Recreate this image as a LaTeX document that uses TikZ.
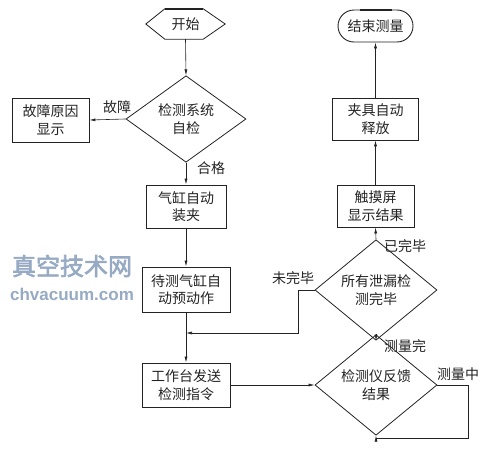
\documentclass[tikz,border=0pt]{standalone}
\usepackage{fontspec}
\newfontfamily\cjk{Noto Sans CJK SC}
\newfontfamily\wmfont{Noto Sans CJK SC}[FakeBold=2.5]
\newfontfamily\wmlat{Liberation Sans}
\usetikzlibrary{shapes.geometric,shapes.misc,arrows.meta}
\definecolor{ink}{RGB}{35,35,35}
\definecolor{wm}{RGB}{150,170,195}
\tikzset{
  every node/.style={font=\cjk\fontsize{14}{17.5}\selectfont, text=ink, inner sep=0pt},
  box/.style={draw=ink, line width=0.9pt, rectangle, align=center},
  dia/.style={draw=ink, line width=0.8pt, diamond, align=center},
  flow/.style={draw=ink, line width=0.6pt, -{Latex[length=6pt,width=3pt]}},
  plain/.style={draw=ink, line width=0.6pt},
  lbl/.style={font=\cjk\fontsize{14}{16}\selectfont}
}
\begin{document}
\begin{tikzpicture}[x=1pt,y=-1pt]
\useasboundingbox (0,0) rectangle (484,455);
% watermark
\node[text=wm, font=\wmfont\fontsize{24}{26}\selectfont] (wmcn) at (72,266) {真空技术网};
\node[text=wm, font=\wmlat\bfseries\fontsize{17}{19}\selectfont] (wmen) at (72,294) {chvacuum.com};
% start hexagon
\node[minimum width=79pt, minimum height=30pt] (start) at (185.5,24) {开始};
\draw[ink, line width=0.8pt] (start.west) -- ([xshift=19pt]start.north west) -- ([xshift=-22pt]start.north east) -- (start.east) -- ([xshift=-22pt]start.south east) -- ([xshift=19pt]start.south west) -- cycle;
\draw[ink, line width=2pt] ([xshift=19pt,yshift=-0.5pt]start.north west) -- ([xshift=-22pt,yshift=-0.5pt]start.north east);
% end terminal
\node[draw=ink, line width=0.9pt, rounded rectangle, minimum width=75pt, minimum height=32pt] (end) at (375.5,26) {结束测量};
\draw[ink, line width=2pt] ([xshift=-16pt,yshift=-0.5pt]end.north) -- ([xshift=16pt,yshift=-0.5pt]end.north);
% nodes
\node[dia, minimum width=120pt, minimum height=67pt] (check) at (186,119) {检测系统\\自检};
\node[box, minimum width=77pt, minimum height=44pt] (fault) at (50.5,120) {故障原因\\显示};
\node[box, minimum width=80pt, minimum height=43pt] (clamp) at (186,206.5) {气缸自动\\装夹};
\node[box, minimum width=88pt, minimum height=45pt] (pre) at (186,289.5) {待测气缸自\\动预动作};
\node[box, minimum width=88pt, minimum height=44pt] (send) at (186,385) {工作台发送\\检测指令};
\node[dia, minimum width=122pt, minimum height=65pt] (fb) at (376,385) {检测仪反馈\\结果};
\node[dia, minimum width=122pt, minimum height=66pt] (all) at (376,290) {所有泄漏检\\测完毕};
\node[box, minimum width=77pt, minimum height=42pt] (screen) at (375.5,206) {触摸屏\\显示结果};
\node[box, minimum width=86pt, minimum height=42pt] (release) at (375.5,119) {夹具自动\\释放};
% helper coordinates
\coordinate (fbR) at (468,385);
\coordinate (fbRB) at (468,438);
\coordinate (fbB) at (376,438);
\coordinate (allLB) at (298,333);
\coordinate (join) at (186,333);
% connectors
\draw[flow] (start.south) -- (check.north);
\draw[flow] (check.west) -- (fault.east);
\draw[flow] (check.south) -- (clamp.north);
\draw[flow] (clamp.south) -- (pre.north);
\draw[flow] (pre.south) -- (send.north);
\draw[flow] (send.east) -- (fb.west);
\draw[flow] (fb.east) -- (fbR) -- (fbRB) -- (fbB) -- (fb.south);
\draw[flow] (fb.north) -- (all.south);
\draw[flow] (all.west) -- (allLB |- all.west) -- (allLB) -- (join);
\draw[flow] (all.north) -- (screen.south);
\draw[flow] (screen.north) -- (release.south);
\draw[flow] (release.north) -- (end.south);
% labels
\node[lbl] (l1) at (117,107) {故障};
\node[lbl] (l2) at (211,168) {合格};
\node[lbl] (l3) at (405,246) {已完毕};
\node[lbl] (l4) at (293,278) {未完毕};
\node[lbl] (l5) at (405,346) {测量完};
\node[lbl] (l6) at (458,374) {测量中};
\end{tikzpicture}
\end{document}
